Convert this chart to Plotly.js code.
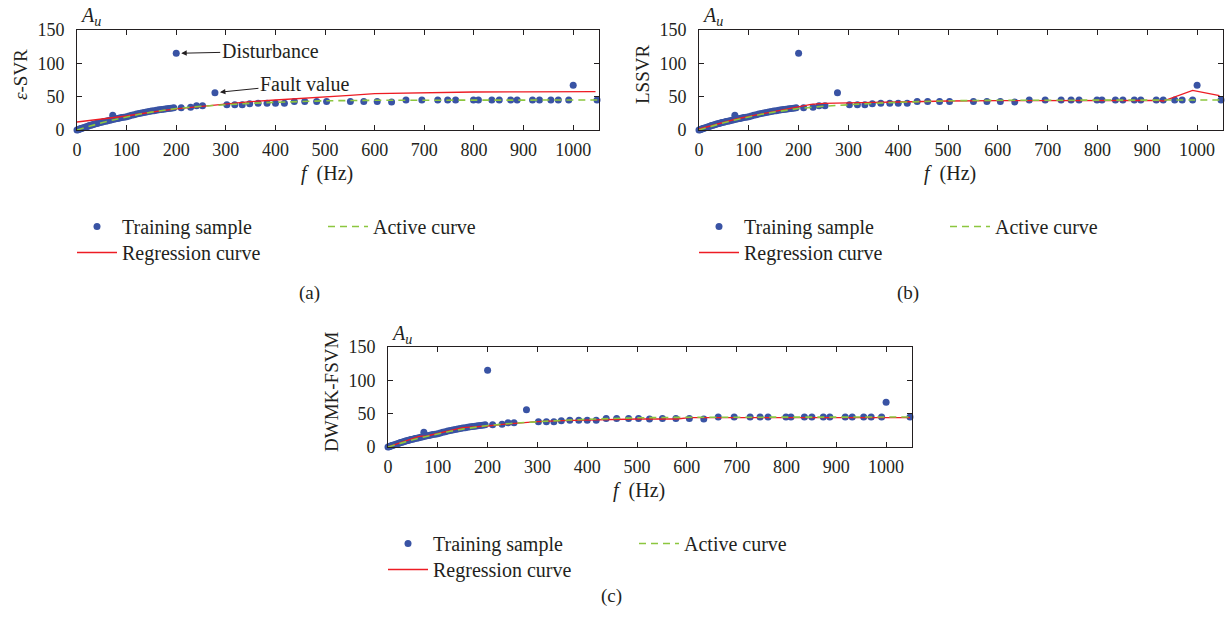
<!DOCTYPE html>
<html><head><meta charset="utf-8">
<script src="https://cdn.plot.ly/plotly-3.0.1.min.js"></script>
<style>html,body{margin:0;padding:0;background:#fff}#chart{width:1227px;height:629px}</style>
</head><body><div id="chart"></div>
<script>
// ---- Data ----
const sampleF = [0,2,4,6,8,10,13,16,19,22,25,28,31,34,37,40,43,46,50,54,58,62,66,70,72,74,78,82,86,90,95,100,105,110,115,120,125,130,135,140,145,150,155,160,165,170,175,180,185,190,195,
  200,210,229,241,253,278,302,318,333,348,365,383,400,418,438,459,483,503,551,578,605,634,663,695,727,747,763,799,809,836,851,874,887,918,932,955,970,991,1000,1048];
const sampleA = [0,0.5,1,1.6,2.2,2.8,3.5,4.3,5,5.8,6.6,7.3,8,8.6,9.3,9.9,10.5,11.1,11.8,12.6,13.3,14,14.8,15.5,22,16.1,16.8,17.4,18,18.6,19.3,20,21,22,23,24,24.8,25.6,26.4,27.1,27.8,28.4,29,29.6,30.2,30.8,31.3,31.8,32.3,32.8,33.2,
  115,33.5,34.3,36.3,36.5,56,38,38,38,39.5,40.3,40.3,40.3,40.3,42.8,42.8,42.8,42.8,42.8,42.8,42.8,42,45,45,45,45,45,45,45,45,45,45,45,45,45,45,45,45,67,45];
const extraCF = [525];
const extraCA = [42];

const activeF = [0,25,50,75,100,125,150,175,200,250,300,350,400,450,500,600,700,800,900,1000,1050];
const activeA = [0,6,11,15.5,19.8,23.5,26.8,29.8,32.2,35.6,38,40,41.6,42.8,43.8,44.6,44.9,45,45,45,45];

const regAF = [0,25,50,75,100,125,150,175,200,225,250,275,300,350,400,450,500,550,600,650,700,750,800,900,1000,1045];
const regAA = [12,14,16.2,18.6,21,24,27,29.5,31.6,33.6,35.6,37.6,39.5,42.5,45,47,49.5,52,54.5,55,55.3,56.8,57,57.2,57.5,57.5];

const regBF = [0,25,50,75,100,125,150,175,200,225,250,275,300,350,400,450,500,600,700,800,900,918,932,991,1045];
const regBA = [1.5,6.5,11.8,16.5,20.5,24,27.5,30.5,34,38.5,40,40.6,41,41.5,42,43,43.5,44,44.5,44.5,44.5,44.5,43.5,59.5,51.5];

const regCF = [0,10,25,40,55,62,78,90,110,130,150,165,185,200,230,260,300,350,400,450,500,550,580,605,650,700,800,900,1000,1048];
const regCA = [0,2.5,6.5,10,14,16,16.5,18.5,22,25,29,29.8,30.5,31.5,34,36,38,39.5,40.5,41.5,42,42,42,44,44,44,44,44,44,44];

const xTicks = [0,100,200,300,400,500,600,700,800,900,1000];
const yTicks = [0,50,100,150];
const panelNames = ['<i>ε</i>-SVR','LSSVR','DWMK-FSVM'];
const panelTags = ['(a)','(b)','(c)'];
const seriesNames = ['Training sample','Regression curve','Active curve'];

// ---- Styling ----
const W = 1227, H = 629;
const px = x => x / W;
const py = y => 1 - y / H;
const FONT = '"Liberation Serif", "Times New Roman", serif';
const INK = '#231f20';
const BLUE = '#3953a4', RED = '#ed1c24', GREEN = '#8cc63f';

// pixel boxes of each plot area: [left, right, top, bottom]
const boxes = [[77,599,30,130],[699,1223,30,130],[388,912,347,447]];

const regs = [[regAF,regAA],[regBF,regBA],[regCF,regCA]];
const traces = [];
const layout = {
  width: W, height: H,
  margin: {l:0,r:0,t:0,b:0},
  paper_bgcolor: '#fff', plot_bgcolor: '#fff',
  font: {family: FONT, color: INK, size: 18},
  annotations: [], showlegend: true
};

boxes.forEach((b, i) => {
  const sfx = i === 0 ? '' : String(i + 1);
  const xa = 'x' + sfx, ya = 'y' + sfx;
  const legS = i === 0 ? 'legend' : 'legend' + (3 * i + 1);
  const legR = 'legend' + (3 * i + 2);
  const legA = 'legend' + (3 * i + 3);
  let sf = sampleF, sa = sampleA;
  if (i === 2) { sf = sampleF.concat(extraCF); sa = sampleA.concat(extraCA); }
  traces.push({type:'scatter', mode:'markers', x: sf, y: sa, xaxis: xa, yaxis: ya,
    name: seriesNames[0], legend: legS, cliponaxis: false,
    marker: {color: BLUE, size: 7, line: {width: 0}}});
  traces.push({type:'scatter', mode:'lines', x: regs[i][0], y: regs[i][1], xaxis: xa, yaxis: ya,
    name: seriesNames[1], legend: legR, line: {color: RED, width: 1.3}});
  traces.push({type:'scatter', mode:'lines', x: activeF, y: activeA, xaxis: xa, yaxis: ya,
    name: seriesNames[2], legend: legA, line: {color: GREEN, width: 1.6, dash: '7px,5px'}});

  const axCommon = {showline: true, linecolor: INK, linewidth: 1, mirror: 'ticks',
    ticks: 'inside', ticklen: 5, tickwidth: 1, tickcolor: INK, showgrid: false, zeroline: false,
    tickfont: {family: FONT, size: 18, color: INK}};
  layout['xaxis' + sfx] = Object.assign({}, axCommon, {
    domain: [px(b[0]), px(b[1])], anchor: ya, range: [0, 1052],
    tickvals: xTicks, ticktext: xTicks.map(String), ticklabelstandoff: 3});
  layout['yaxis' + sfx] = Object.assign({}, axCommon, {
    domain: [py(b[3]), py(b[2])], anchor: xa, range: [0, 150],
    tickvals: yTicks, ticktext: yTicks.map(String), ticklabelstandoff: 8});

  const legCommon = {orientation: 'v', xanchor: 'left', yanchor: 'top', bgcolor: 'rgba(0,0,0,0)',
    borderwidth: 0, font: {family: FONT, size: 20, color: INK}, itemwidth: 40, tracegroupgap: 0};
  const row1 = b[3] + 97 - 20;   // centre of first legend row minus offset
  const row2 = b[3] + 123 - 20;
  layout[legS] = Object.assign({}, legCommon, {x: px(b[0] - 5), y: py(row1)});
  layout[legR] = Object.assign({}, legCommon, {x: px(b[0] - 5), y: py(row2)});
  layout[legA] = Object.assign({}, legCommon, {x: px(b[0] + 246), y: py(row1)});

  // text labels
  layout.annotations.push({xref:'paper', yref:'paper', x: px(b[0] + 1), y: py(b[2] - 13),
    xanchor:'left', yanchor:'middle', showarrow:false, text:'<i>A</i><sub><i>u</i></sub>',
    font:{family: FONT, size: 20, color: INK}});
  layout.annotations.push({xref:'paper', yref:'paper', x: px(b[0] - 57), y: py((b[2] + b[3]) / 2 - 5),
    xanchor:'center', yanchor:'middle', showarrow:false, textangle: -90, text: panelNames[i],
    font:{family: FONT, size: 19, color: INK}});
  layout.annotations.push({xref:'paper', yref:'paper', x: px((b[0] + b[1]) / 2 - 11), y: py(b[3] + 43),
    xanchor:'center', yanchor:'middle', showarrow:false, text:'<i>f</i>  (Hz)',
    font:{family: FONT, size: 20, color: INK}});
});

layout.annotations.push({xref:'paper', yref:'paper', x: px(297), y: py(293), showarrow:false,
  text: panelTags[0], font:{family: FONT, size: 19, color: INK}});
layout.annotations.push({xref:'paper', yref:'paper', x: px(921), y: py(293), showarrow:false,
  text: panelTags[1], font:{family: FONT, size: 19, color: INK}});
layout.annotations.push({xref:'paper', yref:'paper', x: px(611), y: py(609), showarrow:false,
  text: panelTags[2], font:{family: FONT, size: 19, color: INK}});

// callouts in panel (a)
layout.annotations.push({xref:'x', yref:'y', x: 200, y: 115, ax: 94, ay: -2, text: 'Disturbance',
  showarrow: true, arrowhead: 2, arrowsize: 1.1, arrowwidth: 1, arrowcolor: INK, standoff: 5,
  font:{family: FONT, size: 20, color: INK}});
layout.annotations.push({xref:'x', yref:'y', x: 278, y: 56, ax: 90, ay: -9, text: 'Fault value',
  showarrow: true, arrowhead: 2, arrowsize: 1.1, arrowwidth: 1, arrowcolor: INK, standoff: 5,
  font:{family: FONT, size: 20, color: INK}});

Plotly.newPlot('chart', traces, layout, {displayModeBar: false, staticPlot: true});
</script></body></html>
